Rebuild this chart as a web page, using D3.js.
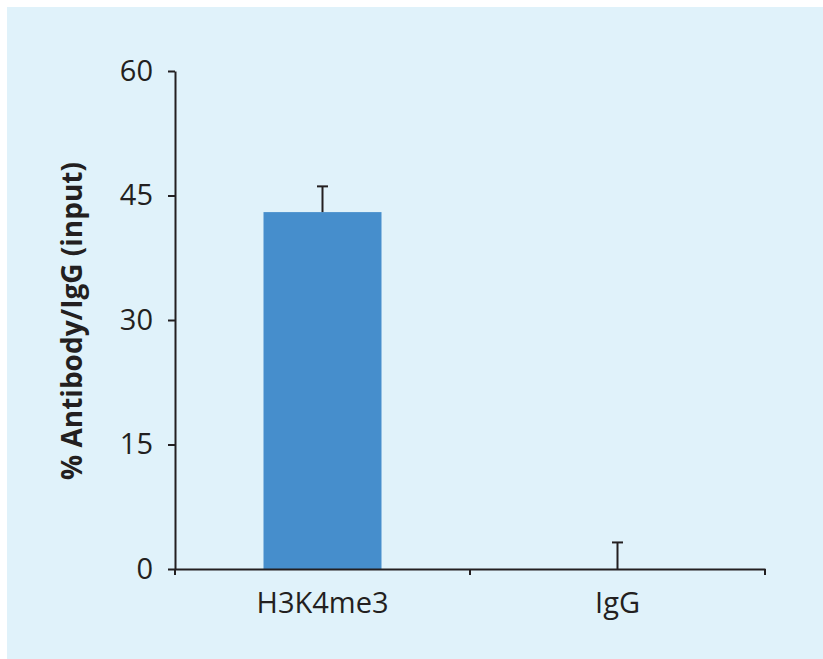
<!DOCTYPE html>
<html>
<head>
<meta charset="utf-8">
<script src="https://cdn.jsdelivr.net/npm/d3@7"></script>
<style>
  body { margin: 0; background: #fff; }
  svg { display: block; }
  text { font-family: "Open Sans", "Noto Sans", sans-serif; fill: #231f20; }
</style>
</head>
<body>
<svg id="chart" width="823" height="659"></svg>
<script>
// data
var categories = ["H3K4me3", "IgG"];
var values = [43, 0];
var errors = [3.1, 3.2];
var yTicks = [0, 15, 30, 45, 60];

var width = 823, height = 659;
var margin = {top: 71, left: 175, right: 58, bottom: 90};

var svg = d3.select("#chart");

svg.append("rect")
    .attr("x", 7).attr("y", 7)
    .attr("width", width - 7).attr("height", height - 7)
    .attr("fill", "#e0f2fa");

var x = d3.scaleBand()
    .domain(categories)
    .range([margin.left, width - margin.right])
    .padding(0);

var y = d3.scaleLinear()
    .domain([0, 60])
    .range([height - margin.bottom, margin.top]);

var barW = x.bandwidth() * 0.4;

// bars
svg.append("g").selectAll("rect")
    .data(categories)
    .enter().append("rect")
    .attr("x", function(d) { return x(d) + x.bandwidth() / 2 - barW / 2; })
    .attr("y", function(d, i) { return y(values[i]); })
    .attr("width", barW)
    .attr("height", function(d, i) { return y(0) - y(values[i]); })
    .attr("fill", "#468ecc");

// error bars (upper only)
var eb = svg.append("g").attr("stroke", "#231f20").attr("stroke-width", 2);
categories.forEach(function(c, i) {
    var cx = x(c) + x.bandwidth() / 2;
    eb.append("line")
        .attr("x1", cx).attr("x2", cx)
        .attr("y1", y(values[i])).attr("y2", y(values[i] + errors[i]));
    eb.append("line")
        .attr("x1", cx - 5.5).attr("x2", cx + 5.5)
        .attr("y1", y(values[i] + errors[i])).attr("y2", y(values[i] + errors[i]));
});

// y axis
var yAxis = svg.append("g")
    .attr("transform", "translate(" + margin.left + ",0)")
    .call(d3.axisLeft(y).tickValues(yTicks).tickSize(7).tickPadding(15).tickSizeOuter(0));

// x axis
var xAxis = svg.append("g")
    .attr("transform", "translate(0," + y(0) + ")")
    .call(d3.axisBottom(x).tickSize(0).tickPadding(23));

// ticks at band edges
xAxis.selectAll(".edge")
    .data([0, 1, 2])
    .enter().append("line")
    .attr("class", "edge")
    .attr("x1", function(d) { return margin.left + d * x.step(); })
    .attr("x2", function(d) { return margin.left + d * x.step(); })
    .attr("y1", 0).attr("y2", 6)
    .attr("stroke", "#231f20").attr("stroke-width", 2);

[yAxis, xAxis].forEach(function(g) {
    g.select(".domain").attr("stroke", "#231f20").attr("stroke-width", 2);
    g.selectAll(".tick line").attr("stroke", "#231f20").attr("stroke-width", 2);
    g.selectAll("text")
        .style("font-family", "'Open Sans', 'Noto Sans', sans-serif")
        .style("font-size", "29px")
        .attr("fill", "#231f20");
});

// y title
svg.append("text")
    .attr("transform", "translate(82,321) rotate(-90)")
    .attr("text-anchor", "middle")
    .style("font-size", "28px")
    .style("font-weight", "bold")
    .text("% Antibody/IgG (input)");
</script>
</body>
</html>
